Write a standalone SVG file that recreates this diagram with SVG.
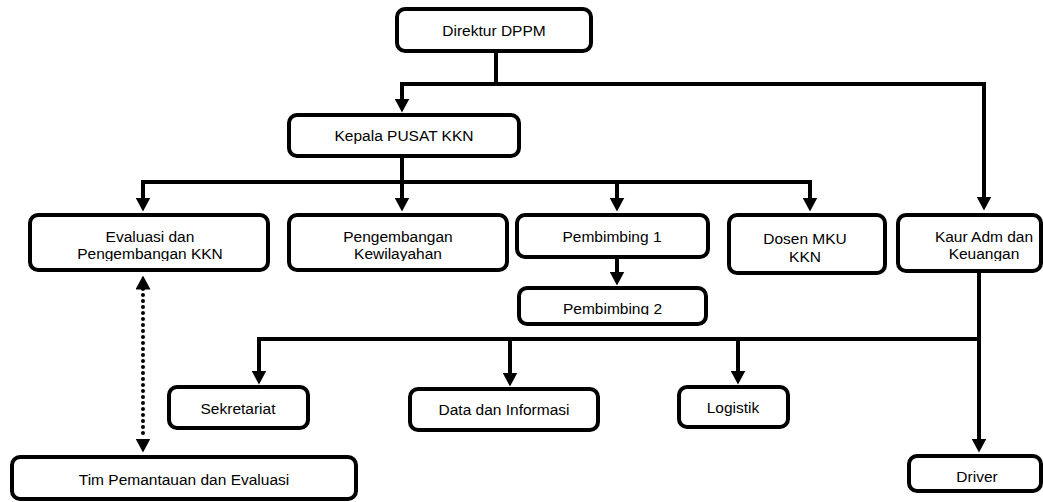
<svg xmlns="http://www.w3.org/2000/svg" width="1043" height="502" viewBox="0 0 1043 502">
<style>
.box{fill:#fff;stroke:#000;stroke-width:4}
.t{font-family:"Liberation Sans",Arial,sans-serif;font-size:15.5px;fill:#000;text-anchor:middle}
.c{fill:none;stroke:#000;stroke-width:4}
.h{fill:none;stroke:#000;stroke-width:4;stroke-linecap:square}
.a{fill:none;stroke:#000;stroke-width:4;marker-end:url(#arr)}
.d{fill:none;stroke:#000;stroke-width:4;stroke-linecap:round;stroke-dasharray:0 6;marker-start:url(#arr);marker-end:url(#arr)}
</style>
<defs>
<marker id="arr" viewBox="0 -7.5 14 15" markerUnits="userSpaceOnUse" markerWidth="14" markerHeight="15" refX="0.5" refY="0" orient="auto-start-reverse">
<path d="M0,-7.5 L14,0 L0,7.5 Z" fill="#000"/>
</marker>
<clipPath id="clipRow"><rect x="0" y="200" width="1043" height="61"/></clipPath>
<clipPath id="clipP2"><rect x="500" y="280" width="220" height="35"/></clipPath>
</defs>
<g id="connectors">
<path class="c" d="M496,53 V84"/>
<path class="h" d="M402,84 H984"/>
<path class="a" d="M402,84 V99"/>
<path class="a" d="M984,84 V197"/>
<path class="c" d="M402,158 V182"/>
<path class="h" d="M143,182 H810"/>
<path class="a" d="M143,182 V198"/>
<path class="a" d="M402,182 V198"/>
<path class="a" d="M617,182 V198"/>
<path class="a" d="M810,182 V198"/>
<path class="a" d="M617,259 V272"/>
<path class="a" d="M979,273 V439"/>
<path class="h" d="M259,339 H979"/>
<path class="a" d="M259,339 V371"/>
<path class="a" d="M510,339 V373"/>
<path class="a" d="M738,339 V371"/>
<path class="d" d="M143,289 V439"/>
</g>
<g id="direktur"><rect class="box" x="397" y="9" width="194" height="42" rx="8"/><text class="t" x="494" y="36">Direktur DPPM</text></g>
<g id="kepala"><rect class="box" x="289" y="115" width="230" height="41" rx="8"/><text class="t" x="404" y="141">Kepala PUSAT KKN</text></g>
<g id="evaluasi"><rect class="box" x="30" y="215" width="238" height="55" rx="8"/><g clip-path="url(#clipRow)"><text class="t" x="150" y="241.5">Evaluasi dan</text><text class="t" x="150" y="259.3">Pengembangan KKN</text></g></g>
<g id="pengembangan"><rect class="box" x="289" y="215" width="218" height="55" rx="8"/><g clip-path="url(#clipRow)"><text class="t" x="398" y="241.5">Pengembangan</text><text class="t" x="398" y="259.3">Kewilayahan</text></g></g>
<g id="pembimbing1"><rect class="box" x="517" y="215" width="191" height="42" rx="8"/><text class="t" x="612" y="242">Pembimbing 1</text></g>
<g id="pembimbing2"><rect class="box" x="519" y="288" width="187" height="36" rx="8"/><g clip-path="url(#clipP2)"><text class="t" x="612.5" y="313.5">Pembimbing 2</text></g></g>
<g id="dosen"><rect class="box" x="729" y="215" width="156" height="58" rx="8"/><text class="t" x="805" y="244">Dosen MKU</text><text class="t" x="805" y="261.5">KKN</text></g>
<g id="kaur"><rect class="box" x="898" y="215" width="143" height="56" rx="8"/><g clip-path="url(#clipRow)"><text class="t" x="984" y="241.5">Kaur Adm dan</text><text class="t" x="984" y="259.3">Keuangan</text></g></g>
<g id="sekretariat"><rect class="box" x="169" y="387" width="139" height="41" rx="8"/><text class="t" x="238" y="414">Sekretariat</text></g>
<g id="data"><rect class="box" x="410" y="389" width="188" height="41" rx="8"/><text class="t" x="504" y="415">Data dan Informasi</text></g>
<g id="logistik"><rect class="box" x="679" y="387" width="109" height="40" rx="8"/><text class="t" x="733" y="413">Logistik</text></g>
<g id="driver"><rect class="box" x="909" y="456" width="132" height="35" rx="8"/><text class="t" x="977" y="482">Driver</text></g>
<g id="tim"><rect class="box" x="12" y="457" width="344" height="42" rx="8"/><text class="t" x="184" y="485">Tim Pemantauan dan Evaluasi</text></g>
</svg>
